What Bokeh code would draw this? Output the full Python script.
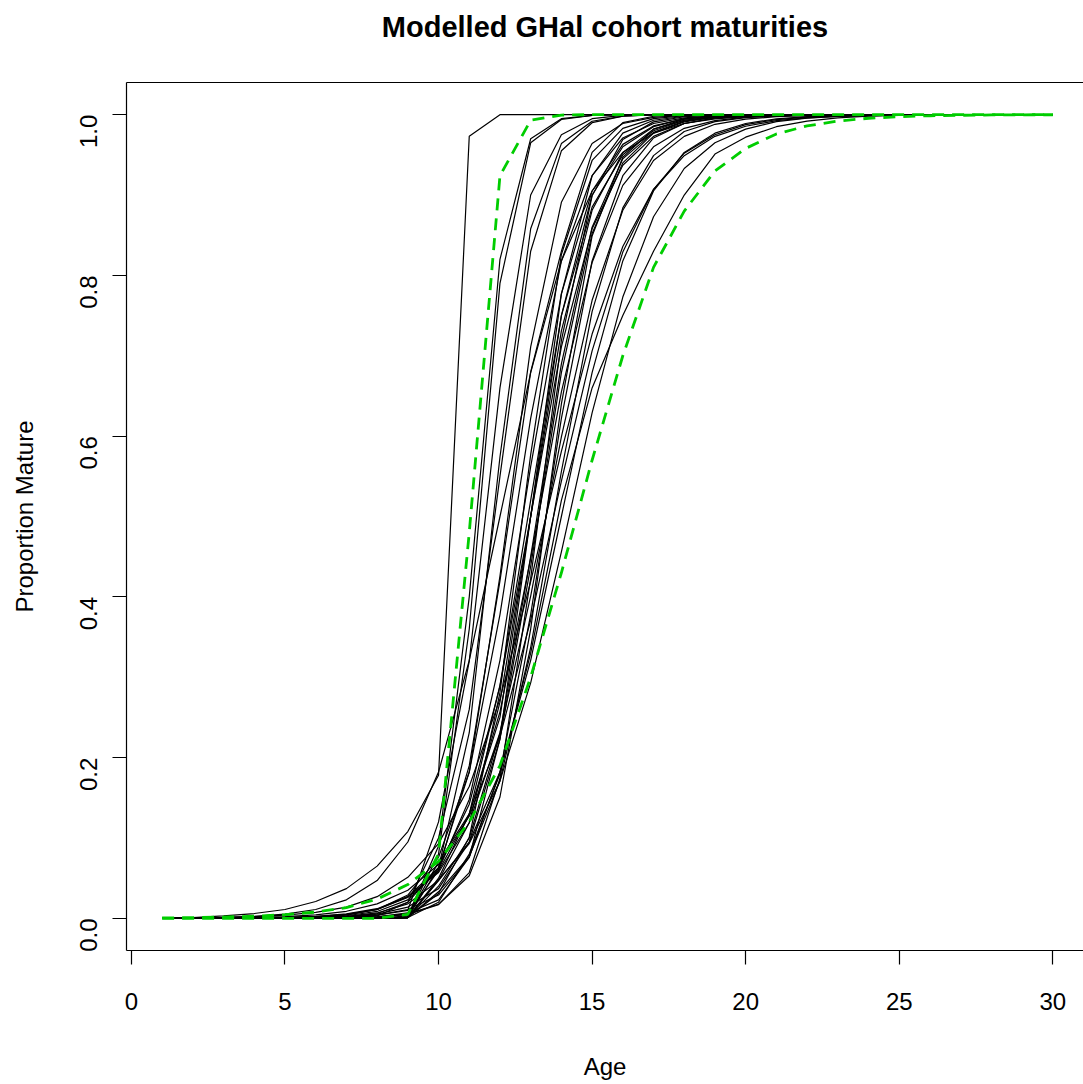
import math
from bokeh.plotting import figure
from bokeh.models import (LinearAxis, FixedTicker, PrintfTickFormatter, Range1d,
                          ColumnDataSource)
from bokeh.embed import file_html
from bokeh.resources import INLINE

ages = [1, 2, 3, 4, 5, 6, 7, 8, 9, 10,
        11, 12, 13, 14, 15, 16, 17, 18, 19, 20,
        21, 22, 23, 24, 25, 26, 27, 28, 29, 30]

x_ticks = [0, 5, 10, 15, 20, 25, 30]
y_ticks = [0.0, 0.2, 0.4, 0.6, 0.8, 1.0]

# cohort maturity-at-age curves
c_A = [0.0005, 0.001, 0.003, 0.006, 0.011, 0.021, 0.037, 0.065, 0.108, 0.178,
       0.973, 1, 1, 1, 1, 1, 1, 1, 1, 1,
       1, 1, 1, 1, 1, 1, 1, 1, 1, 1]
c_B = [0, 0, 0, 0, 0, 0, 0, 0, 0.003, 0.09,
       0.40, 0.82, 0.97, 0.995, 0.999, 1, 1, 1, 1, 1,
       1, 1, 1, 1, 1, 1, 1, 1, 1, 1]
c_C = [0, 0, 0, 0, 0, 0, 0, 0, 0.002, 0.08,
       0.36, 0.79, 0.965, 0.994, 0.999, 1, 1, 1, 1, 1,
       1, 1, 1, 1, 1, 1, 1, 1, 1, 1]
c_D = [0, 0, 0, 0, 0.001, 0.001, 0.002, 0.004, 0.01, 0.12,
       0.32, 0.66, 0.90, 0.975, 0.995, 0.999, 1, 1, 1, 1,
       1, 1, 1, 1, 1, 1, 1, 1, 1, 1]
c_E = [0, 0, 0, 0, 0, 0.001, 0.001, 0.003, 0.02, 0.10,
       0.26, 0.55, 0.83, 0.955, 0.99, 0.998, 1, 1, 1, 1,
       1, 1, 1, 1, 1, 1, 1, 1, 1, 1]
c_F = [0, 0, 0, 0, 0, 0, 0.001, 0.002, 0.005, 0.06,
       0.19, 0.42, 0.68, 0.83, 0.953, 0.99, 0.998, 1, 1, 1,
       1, 1, 1, 1, 1, 1, 1, 1, 1, 1]
c_G = [0.0003, 0.0006, 0.0012, 0.0025, 0.0052, 0.011, 0.023, 0.047, 0.095, 0.182,
       0.321, 0.5, 0.679, 0.818, 0.905, 0.953, 0.977, 0.989, 0.9948, 0.9975,
       0.9988, 0.9994, 0.9997, 0.9999, 1, 1, 1, 1, 1, 1]
c_LM1 = [0, 0, 0, 0.0001, 0.0002, 0.0006, 0.0018, 0.006, 0.020, 0.063,
         0.182, 0.426, 0.711, 0.891, 0.964, 0.989, 0.9967, 0.999, 1, 1,
         1, 1, 1, 1, 1, 1, 1, 1, 1, 1]
c_LM2 = [0, 0, 0, 0, 0, 0, 0, 0, 0.001, 0.063,
         0.231, 0.574, 0.858, 0.964, 0.9918, 0.9982, 0.9996, 1, 1, 1,
         1, 1, 1, 1, 1, 1, 1, 1, 1, 1]
c_M1 = [0, 0, 0, 0.0001, 0.0003, 0.0007, 0.0019, 0.0052, 0.014, 0.037,
        0.095, 0.223, 0.438, 0.679, 0.852, 0.940, 0.977, 0.991, 0.9968, 0.9988,
        0.9996, 0.9998, 1, 1, 1, 1, 1, 1, 1, 1]
c_M2 = [0, 0, 0, 0.0001, 0.0003, 0.0009, 0.0025, 0.0067, 0.018, 0.047,
        0.119, 0.269, 0.5, 0.731, 0.881, 0.953, 0.982, 0.993, 0.9975, 0.9991,
        0.9997, 1, 1, 1, 1, 1, 1, 1, 1, 1]
c_M3 = [0, 0, 0, 0, 0.0002, 0.0006, 0.0015, 0.0041, 0.011, 0.029,
        0.076, 0.182, 0.378, 0.622, 0.818, 0.924, 0.971, 0.989, 0.996, 0.9985,
        0.9994, 0.9998, 1, 1, 1, 1, 1, 1, 1, 1]
c_M4 = [0, 0, 0, 0, 0, 0.0002, 0.0006, 0.0019, 0.0067, 0.023,
        0.076, 0.223, 0.5, 0.777, 0.924, 0.977, 0.993, 0.998, 0.9995, 1,
        1, 1, 1, 1, 1, 1, 1, 1, 1, 1]
c_M5 = [0, 0, 0, 0, 0, 0, 0.0004, 0.0014, 0.0049, 0.017,
        0.057, 0.174, 0.423, 0.719, 0.899, 0.969, 0.991, 0.9974, 0.9993, 0.9998,
        1, 1, 1, 1, 1, 1, 1, 1, 1, 1]
c_M6 = [0, 0, 0, 0.0001, 0.0004, 0.0012, 0.0032, 0.0086, 0.023, 0.060,
        0.148, 0.321, 0.562, 0.777, 0.905, 0.963, 0.986, 0.9948, 0.998, 0.9993,
        0.9997, 1, 1, 1, 1, 1, 1, 1, 1, 1]
c_M7 = [0, 0, 0.0001, 0.0003, 0.0007, 0.0018, 0.0045, 0.011, 0.027, 0.063,
        0.142, 0.289, 0.5, 0.711, 0.858, 0.937, 0.973, 0.989, 0.9955, 0.9982,
        0.9993, 0.9997, 1, 1, 1, 1, 1, 1, 1, 1]
c_M8 = [0, 0, 0, 0, 0, 0, 0, 0, 0.001, 0.05,
        0.13, 0.29, 0.52, 0.75, 0.885, 0.95, 0.98, 0.993, 0.997, 0.999,
        1, 1, 1, 1, 1, 1, 1, 1, 1, 1]
c_M9 = [0, 0, 0, 0, 0, 0, 0, 0, 0.001, 0.04,
        0.10, 0.23, 0.45, 0.69, 0.86, 0.945, 0.978, 0.992, 0.997, 0.999,
        1, 1, 1, 1, 1, 1, 1, 1, 1, 1]
c_M10 = [0, 0, 0, 0, 0, 0, 0, 0, 0.001, 0.031,
         0.101, 0.281, 0.577, 0.826, 0.943, 0.983, 0.995, 0.9986, 0.9996, 1,
         1, 1, 1, 1, 1, 1, 1, 1, 1, 1]
c_M11 = [0, 0, 0, 0, 0, 0, 0.0006, 0.0018, 0.0056, 0.0175,
         0.053, 0.151, 0.36, 0.64, 0.849, 0.947, 0.982, 0.9944, 0.9982, 0.9994,
         0.9998, 1, 1, 1, 1, 1, 1, 1, 1, 1]
c_M12 = [0, 0, 0, 0, 0, 0, 0, 0, 0.002, 0.07,
         0.13, 0.25, 0.5, 0.75, 0.90, 0.96, 0.985, 0.995, 0.998, 0.9995,
         1, 1, 1, 1, 1, 1, 1, 1, 1, 1]
c_M13 = [0, 0, 0, 0.0002, 0.0006, 0.0015, 0.0041, 0.011, 0.029, 0.076,
         0.182, 0.378, 0.622, 0.818, 0.924, 0.971, 0.989, 0.996, 0.9985, 0.9994,
         0.9998, 1, 1, 1, 1, 1, 1, 1, 1, 1]
c_R0 = [0, 0, 0, 0, 0, 0, 0, 0, 0.001, 0.02,
        0.08, 0.18, 0.33, 0.52, 0.66, 0.75, 0.83, 0.90, 0.951, 0.972,
        0.985, 0.992, 0.996, 0.998, 0.999, 1, 1, 1, 1, 1]
c_R2 = [0.0001, 0.0002, 0.0005, 0.0011, 0.0022, 0.0044, 0.0088, 0.018, 0.035, 0.067,
        0.127, 0.226, 0.371, 0.544, 0.706, 0.829, 0.907, 0.952, 0.975, 0.9876,
        0.9938, 0.9969, 0.9985, 0.9993, 0.9996, 0.9998, 1, 1, 1, 1]
c_R3 = [0, 0, 0.0002, 0.0005, 0.0011, 0.0025, 0.0055, 0.012, 0.027, 0.057,
        0.119, 0.231, 0.401, 0.599, 0.769, 0.881, 0.943, 0.973, 0.988, 0.9945,
        0.9975, 0.9989, 0.9995, 0.9998, 1, 1, 1, 1, 1, 1]
c_R4 = [0, 0, 0, 0, 0, 0, 0, 0, 0.001, 0.047,
        0.095, 0.182, 0.321, 0.5, 0.679, 0.818, 0.905, 0.953, 0.977, 0.989,
        0.9948, 0.9975, 0.9988, 0.9994, 0.9997, 1, 1, 1, 1, 1]
c_R5 = [0.0003, 0.0006, 0.0011, 0.0021, 0.004, 0.0075, 0.014, 0.027, 0.051, 0.093,
        0.164, 0.273, 0.419, 0.581, 0.727, 0.836, 0.907, 0.949, 0.973, 0.9856,
        0.9925, 0.996, 0.9979, 0.9989, 0.9994, 0.9997, 0.9998, 1, 1, 1]
c_R6 = [0, 0, 0, 0, 0, 0, 0, 0, 0.001, 0.033,
        0.077, 0.171, 0.337, 0.556, 0.755, 0.884, 0.949, 0.979, 0.9913, 0.9964,
        0.9985, 0.9994, 0.9998, 1, 1, 1, 1, 1, 1, 1]
c_R7 = [0, 0, 0.0002, 0.0004, 0.0009, 0.0021, 0.0049, 0.011, 0.026, 0.059,
        0.129, 0.257, 0.448, 0.655, 0.816, 0.912, 0.960, 0.983, 0.9925, 0.9968,
        0.9986, 0.9994, 0.9997, 1, 1, 1, 1, 1, 1, 1]
c_R8 = [0, 0, 0, 0, 0, 0, 0, 0, 0.001, 0.048,
        0.093, 0.171, 0.293, 0.456, 0.629, 0.773, 0.873, 0.933, 0.965, 0.982,
        0.9913, 0.9956, 0.9978, 0.9989, 0.9995, 0.9997, 0.9999, 1, 1, 1]

# envelope curves (green dashed)
green_hi = [0, 0, 0, 0, 0, 0, 0, 0, 0.005, 0.08,
            0.48, 0.924, 0.993, 0.9995, 1, 1, 1, 1, 1, 1,
            1, 1, 1, 1, 1, 1, 1, 1, 1, 1]
green_lo = [0.0005, 0.0009, 0.0016, 0.0027, 0.0045, 0.0078, 0.0134, 0.024, 0.042, 0.071,
            0.12, 0.19, 0.30, 0.43, 0.57, 0.70, 0.81, 0.88, 0.93, 0.958,
            0.976, 0.986, 0.992, 0.9955, 0.9975, 0.9986, 0.9992, 0.9996, 0.9998, 0.9999]

cohorts = [c_A, c_B, c_C, c_D, c_E, c_F, c_G, c_LM1, c_LM2,
           c_M1, c_M2, c_M3, c_M4, c_M5, c_M6, c_M7, c_M8, c_M9, c_M10,
           c_M11, c_M12, c_M13,
           c_R0, c_R2, c_R3, c_R4, c_R5, c_R6, c_R7, c_R8]

TITLE = "Modelled GHal cohort maturities"
FONT = "Liberation Sans"

p = figure(width=1083, height=1084,
           x_range=Range1d(-0.16, 31.0), y_range=Range1d(-0.04, 1.04),
           output_backend="svg", toolbar_location=None,
           min_border_left=126, min_border_right=0,
           min_border_top=82, min_border_bottom=134)
p.outline_line_color = None
p.grid.visible = False
p.background_fill_color = "white"
p.border_fill_color = "white"

src = ColumnDataSource(dict(xs=[ages[:len(c)] for c in cohorts], ys=cohorts))
p.multi_line(xs="xs", ys="ys", source=src, line_color="black", line_width=1.2)

p.line(ages, green_hi, line_color="#00CD00", line_width=2.8, line_dash="12 8")
p.line(ages, green_lo, line_color="#00CD00", line_width=2.8, line_dash="12 8")

for ax in (p.xaxis[0], p.yaxis[0]):
    ax.axis_line_color = "black"
    ax.axis_line_width = 1.2
    ax.major_tick_line_color = "black"
    ax.major_tick_line_width = 1.2
    ax.major_tick_out = 14
    ax.major_tick_in = 0
    ax.minor_tick_line_color = None
    ax.major_label_text_font = FONT
    ax.major_label_text_font_size = "24px"
    ax.major_label_text_color = "black"
    ax.axis_label_text_font = FONT
    ax.axis_label_text_font_size = "24px"
    ax.axis_label_text_font_style = "normal"
    ax.axis_label_text_color = "black"

p.xaxis[0].ticker = FixedTicker(ticks=x_ticks)
p.xaxis[0].axis_label = "Age"
p.xaxis[0].major_label_standoff = 28
p.xaxis[0].axis_label_standoff = 40

p.yaxis[0].ticker = FixedTicker(ticks=y_ticks)
p.yaxis[0].formatter = PrintfTickFormatter(format="%.1f")
p.yaxis[0].major_label_orientation = math.pi / 2
p.yaxis[0].axis_label = "Proportion Mature"
p.yaxis[0].major_label_standoff = 24
p.yaxis[0].axis_label_standoff = 31

# top edge of the box, carrying the main title as its label
top = LinearAxis(axis_line_color="black", axis_line_width=1.2,
                 ticker=FixedTicker(ticks=[]),
                 major_tick_line_color=None, minor_tick_line_color=None,
                 major_tick_out=0, major_tick_in=0,
                 major_label_standoff=0,
                 axis_label=TITLE, axis_label_standoff=40,
                 axis_label_text_font=FONT, axis_label_text_font_size="29px",
                 axis_label_text_font_style="bold", axis_label_text_color="black")
p.add_layout(top, "above")

open("out.html", "w").write(file_html(p, INLINE))
